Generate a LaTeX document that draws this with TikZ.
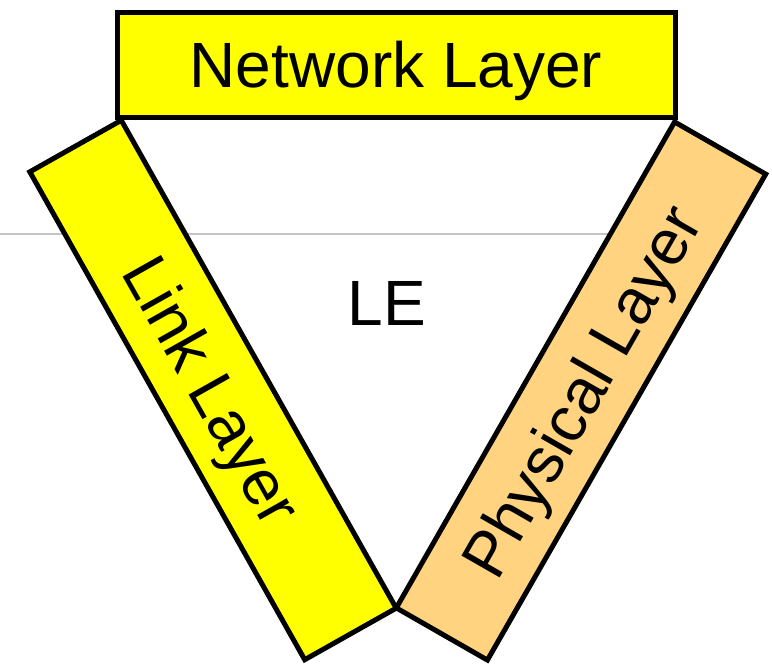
\documentclass[tikz,border=0pt]{standalone}
\usepackage{fontspec}
\setsansfont{Liberation Sans}
\usetikzlibrary{calc}

\definecolor{layeryellow}{HTML}{FFFF00}
\definecolor{layerorange}{HTML}{FFD37F}
\definecolor{rulegray}{HTML}{C4C4C4}

\begin{document}
\begin{tikzpicture}[
    x=0.5pt, y=-0.5pt,
    layer/.style={rectangle, draw, line width=2.5pt, inner sep=0pt, minimum width=279pt, minimum height=52.5pt, text height=22.9pt, text depth=0pt, font=\sffamily\fontsize{32}{32}\selectfont},
    label text/.style={font=\sffamily\fontsize{32}{32}\selectfont},
    guide/.style={draw=rulegray, line width=1pt}
]
\useasboundingbox (0,0) rectangle (772,665);

% Background rule
\coordinate (ruleL) at (0,234);
\coordinate (ruleR) at (650,234);
\draw[guide] (ruleL) -- (ruleR);

% Layers
\node[layer, fill=layeryellow] (network) at (396,64.5) {Network Layer};
\node[layer, fill=layeryellow, rotate=-60.6, minimum width=280pt] (link) at (213,390) {Link Layer};
\node[layer, fill=layerorange, rotate=60.2, minimum width=280pt] (physical) at (581,391) {Physical Layer};

% Centre
\node[label text] (le) at (387,303) {LE};

\end{tikzpicture}
\end{document}
